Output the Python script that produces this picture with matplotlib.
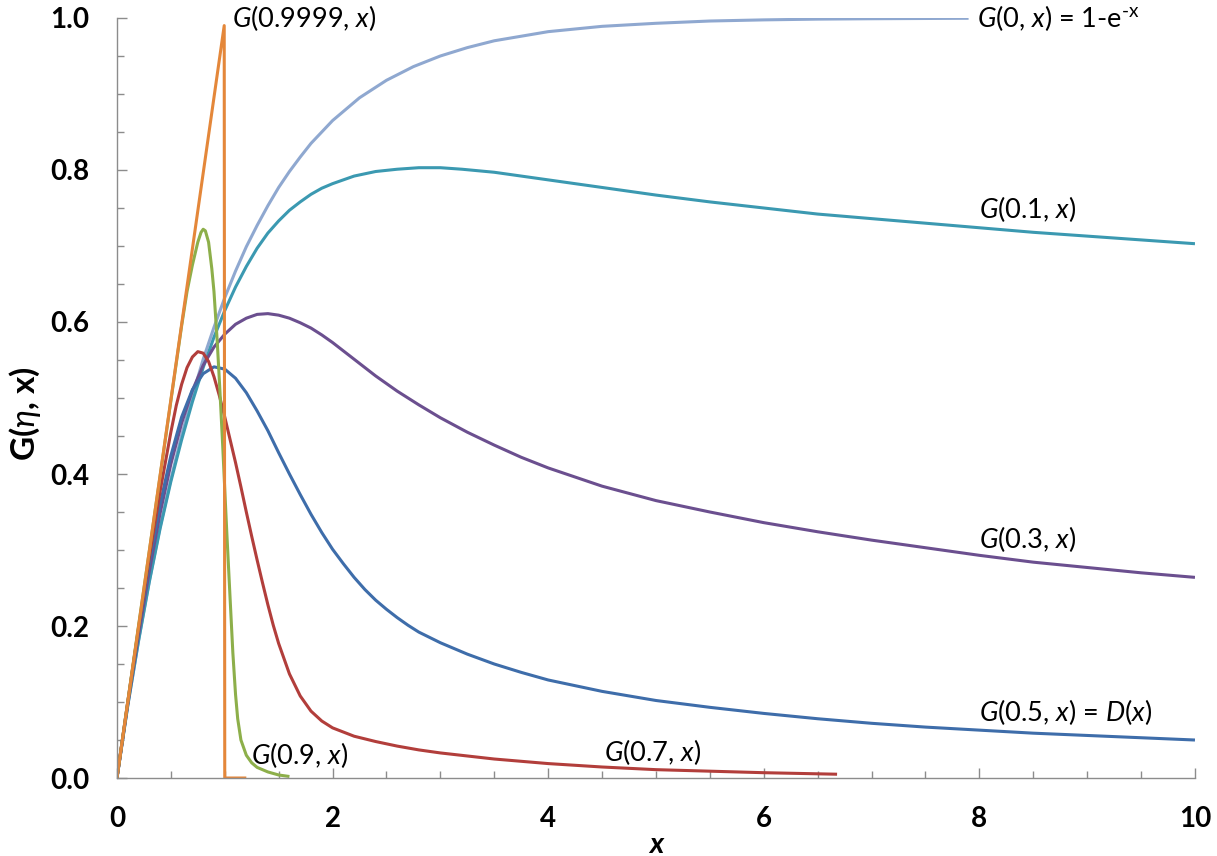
import matplotlib
matplotlib.use("Agg")
import matplotlib.pyplot as plt
from matplotlib.ticker import MultipleLocator, FormatStrFormatter

plt.rcParams['font.family'] = ['Lato', 'DejaVu Sans']
plt.rcParams['mathtext.fontset'] = 'custom'
plt.rcParams['mathtext.rm'] = 'Lato'
plt.rcParams['mathtext.it'] = 'Lato:italic'
plt.rcParams['mathtext.bf'] = 'Lato:bold'
plt.rcParams['mathtext.fallback'] = 'stixsans'

# values
x_g0 = [0, 0.1, 0.2, 0.3, 0.4, 0.5, 0.6, 0.7, 0.8, 0.9, 1.0, 1.1, 1.2, 1.3, 1.4, 1.5,
        1.6, 1.7, 1.8, 1.9, 2.0, 2.25, 2.5, 2.75, 3.0, 3.25, 3.5, 3.75, 4.0, 4.5, 5.0,
        5.5, 6.0, 6.5, 7.0, 7.9]
y_g0 = [0, 0.095, 0.181, 0.259, 0.330, 0.393, 0.451, 0.503, 0.551, 0.593, 0.632, 0.667,
        0.699, 0.727, 0.753, 0.777, 0.798, 0.817, 0.835, 0.850, 0.865, 0.895, 0.918,
        0.936, 0.950, 0.961, 0.970, 0.976, 0.982, 0.989, 0.993, 0.996, 0.9975, 0.9985,
        0.999, 0.9996]

x_g01 = [0, 0.1, 0.2, 0.3, 0.4, 0.5, 0.6, 0.7, 0.8, 0.9, 1.0, 1.1, 1.2, 1.3, 1.4, 1.5,
         1.6, 1.7, 1.8, 1.9, 2.0, 2.2, 2.4, 2.6, 2.8, 3.0, 3.2, 3.5, 3.8, 4.0, 4.5, 5.0,
         5.5, 6.0, 6.5, 7.0, 7.5, 8.0, 8.5, 9.0, 9.5, 10]
y_g01 = [0, 0.095, 0.18, 0.258, 0.328, 0.39, 0.445, 0.495, 0.54, 0.58, 0.615, 0.646,
         0.673, 0.697, 0.717, 0.733, 0.747, 0.758, 0.768, 0.776, 0.782, 0.792, 0.798,
         0.801, 0.803, 0.803, 0.801, 0.797, 0.791, 0.787, 0.777, 0.767, 0.758, 0.750,
         0.742, 0.736, 0.730, 0.724, 0.718, 0.713, 0.708, 0.703]

x_g03 = [0, 0.1, 0.2, 0.3, 0.4, 0.5, 0.6, 0.7, 0.8, 0.9, 1.0, 1.1, 1.2, 1.3, 1.4, 1.5,
         1.6, 1.7, 1.8, 1.9, 2.0, 2.1, 2.2, 2.3, 2.4, 2.5, 2.6, 2.8, 3.0, 3.25, 3.5,
         3.75, 4.0, 4.5, 5.0, 5.5, 6.0, 6.5, 7.0, 7.5, 8.0, 8.5, 9.0, 9.5, 10]
y_g03 = [0, 0.097, 0.188, 0.272, 0.348, 0.413, 0.467, 0.51, 0.543, 0.567, 0.584, 0.597,
         0.605, 0.61, 0.611, 0.609, 0.605, 0.599, 0.592, 0.583, 0.573, 0.562, 0.551,
         0.540, 0.529, 0.519, 0.509, 0.491, 0.474, 0.455, 0.438, 0.422, 0.408, 0.384,
         0.365, 0.35, 0.336, 0.324, 0.313, 0.303, 0.293, 0.284, 0.277, 0.270, 0.264]

x_g05 = [0, 0.1, 0.2, 0.3, 0.4, 0.5, 0.6, 0.7, 0.8, 0.9, 1.0, 1.1, 1.2, 1.3, 1.4, 1.5,
         1.6, 1.7, 1.8, 1.9, 2.0, 2.1, 2.2, 2.3, 2.4, 2.5, 2.6, 2.7, 2.8, 2.9, 3.0, 3.25,
         3.5, 3.75, 4.0, 4.5, 5.0, 5.5, 6.0, 6.5, 7.0, 7.5, 8.0, 8.5, 9.0, 9.5, 10]
y_g05 = [0, 0.099, 0.195, 0.283, 0.360, 0.424, 0.475, 0.511, 0.532, 0.541, 0.538, 0.526,
         0.507, 0.483, 0.457, 0.428, 0.400, 0.373, 0.347, 0.323, 0.301, 0.282, 0.264,
         0.248, 0.234, 0.222, 0.211, 0.201, 0.192, 0.185, 0.178, 0.163, 0.150, 0.139,
         0.129, 0.114, 0.102, 0.093, 0.085, 0.078, 0.072, 0.067, 0.063, 0.059, 0.056,
         0.053, 0.050]

x_g07 = [0, 0.1, 0.2, 0.3, 0.4, 0.5, 0.55, 0.6, 0.65, 0.7, 0.75, 0.8, 0.85, 0.9, 0.95,
         1.0, 1.05, 1.1, 1.15, 1.2, 1.25, 1.3, 1.35, 1.4, 1.45, 1.5, 1.6, 1.7, 1.8, 1.9,
         2.0, 2.2, 2.4, 2.6, 2.8, 3.0, 3.5, 4.0, 4.5, 5.0, 5.5, 6.0, 6.68]
y_g07 = [0, 0.1, 0.197, 0.29, 0.377, 0.455, 0.49, 0.518, 0.54, 0.554, 0.561, 0.559,
         0.548, 0.528, 0.503, 0.475, 0.445, 0.415, 0.383, 0.35, 0.318, 0.287, 0.257,
         0.228, 0.201, 0.177, 0.137, 0.108, 0.088, 0.075, 0.066, 0.055, 0.048, 0.042,
         0.037, 0.033, 0.025, 0.019, 0.0145, 0.011, 0.009, 0.007, 0.005]

x_g09 = [0, 0.2, 0.4, 0.6, 0.65, 0.7, 0.75, 0.78, 0.8, 0.82, 0.85, 0.88, 0.9, 0.93,
         0.955, 0.98, 1.0, 1.02, 1.05, 1.075, 1.1, 1.12, 1.15, 1.2, 1.25, 1.3, 1.4, 1.5,
         1.6]
y_g09 = [0, 0.2, 0.397, 0.595, 0.64, 0.675, 0.705, 0.718, 0.722, 0.72, 0.705, 0.67,
         0.64, 0.575, 0.51, 0.44, 0.38, 0.32, 0.235, 0.165, 0.11, 0.078, 0.05, 0.03,
         0.02, 0.014, 0.008, 0.004, 0.002]

x_g09999 = [0, 0.995, 1.0, 1.2]
y_g09999 = [0, 0.99, 0.0, 0.0]

series = [
    (x_g0, y_g0, '#8FA8D0'),
    (x_g01, y_g01, '#3B99B1'),
    (x_g03, y_g03, '#6B4F8F'),
    (x_g05, y_g05, '#3E6DAA'),
    (x_g07, y_g07, '#B23E3B'),
    (x_g09, y_g09, '#8DAF4A'),
    (x_g09999, y_g09999, '#E4873A'),
]

fig = plt.figure(figsize=(12.17, 8.56), dpi=100)
ax = fig.add_axes([0.0961, 0.0911, 0.8858, 0.8879])

for xs, ys, c in series:
    ax.plot(xs, ys, color=c, lw=2.2, solid_capstyle='butt', solid_joinstyle='round')

ax.set_xlim(0, 10)
ax.set_ylim(0, 1.0)
ax.xaxis.set_major_locator(MultipleLocator(2))
ax.xaxis.set_minor_locator(MultipleLocator(0.5))
ax.yaxis.set_major_locator(MultipleLocator(0.2))
ax.yaxis.set_minor_locator(MultipleLocator(0.05))
ax.yaxis.set_major_formatter(FormatStrFormatter('%.1f'))

for s in ['top', 'right']:
    ax.spines[s].set_visible(False)
for s in ['left', 'bottom']:
    ax.spines[s].set_color('#8C8C8C')
    ax.spines[s].set_linewidth(1.0)

ax.tick_params(which='both', direction='in', color='#8C8C8C', width=1.0)
ax.tick_params(which='major', length=7)
ax.tick_params(which='minor', length=5)
ax.tick_params(axis='x', which='major', pad=20, labelsize=20)
ax.tick_params(axis='y', which='major', pad=20, labelsize=20)
for lab in ax.get_xticklabels() + ax.get_yticklabels():
    lab.set_fontweight('bold')

ax.set_xlabel('x', fontsize=21, fontweight='bold', style='italic', labelpad=0)
ax.set_ylabel(r'G($\eta$, x)', fontsize=24, fontweight='bold')
ax.yaxis.set_label_coords(-0.069, 0.48)

fs = 19.5
ax.text(1.07, 1.0, r'$G$(0.9999, $x$)', fontsize=fs, va='center', ha='left')
ax.text(7.98, 1.0, r'$G$(0, $x$) = 1-e$^{\text{-x}}$', fontsize=fs, va='center', ha='left')
ax.text(8.0, 0.748, r'$G$(0.1, $x$)', fontsize=fs, va='center', ha='left')
ax.text(8.0, 0.314, r'$G$(0.3, $x$)', fontsize=fs, va='center', ha='left')
ax.text(8.0, 0.087, r'$G$(0.5, $x$) = $D$($x$)', fontsize=fs, va='center', ha='left')
ax.text(1.24, 0.030, r'$G$(0.9, $x$)', fontsize=fs, va='center', ha='left')
ax.text(4.52, 0.034, r'$G$(0.7, $x$)', fontsize=fs, va='center', ha='left')

fig.savefig('out.png', dpi=100)
